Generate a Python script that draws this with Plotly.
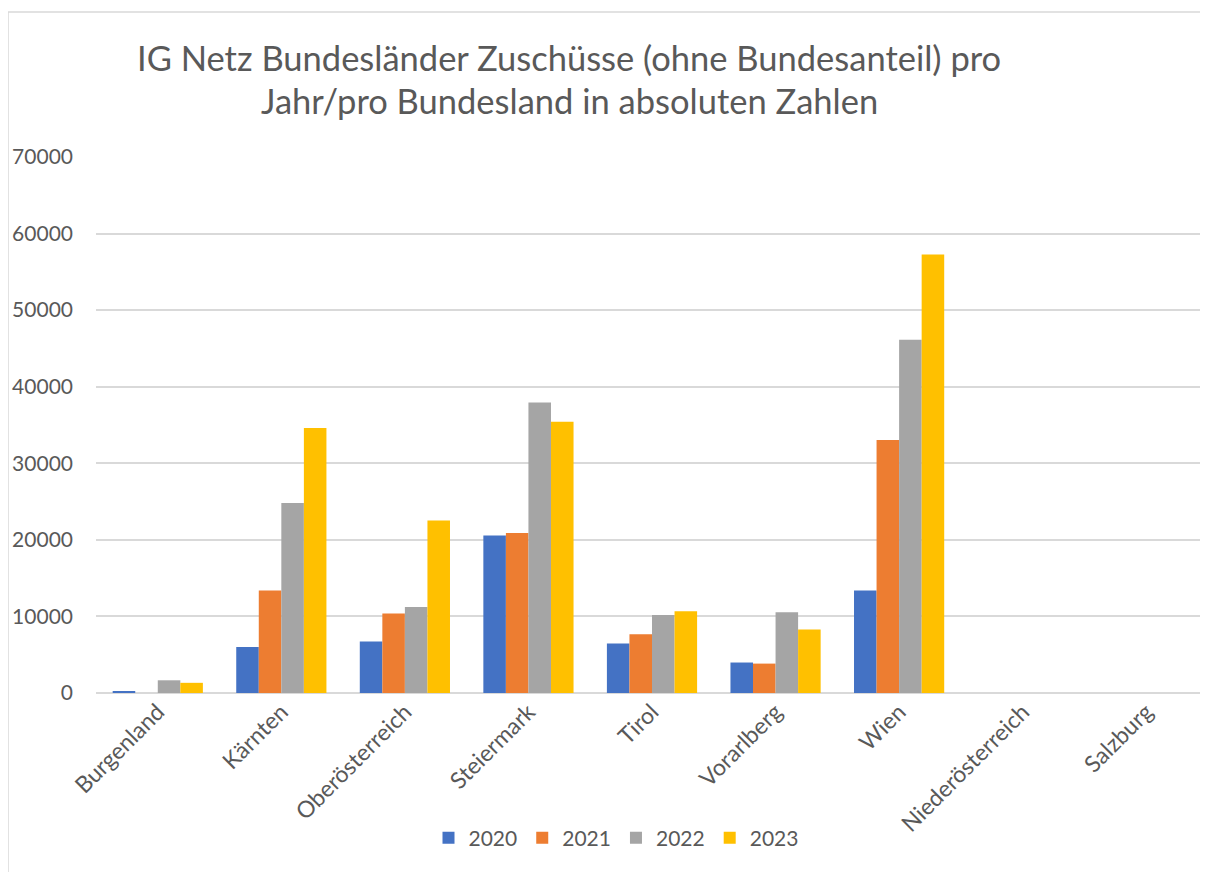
import plotly.graph_objects as go

categories = ["Burgenland", "Kärnten", "Oberösterreich", "Steiermark", "Tirol",
              "Vorarlberg", "Wien", "Niederösterreich", "Salzburg"]
years = ["2020", "2021", "2022", "2023"]
v2020 = [250, 6020, 6730, 20580, 6450, 3980, 13370, None, None]
v2021 = [None, 13370, 10380, 20910, 7680, 3840, 33050, None, None]
v2022 = [1660, 24800, 11240, 37930, 10190, 10530, 46140, None, None]
v2023 = [1330, 34610, 22520, 35420, 10670, 8300, 57280, None, None]
series = [v2020, v2021, v2022, v2023]
colors = ["#4472C4", "#ED7D31", "#A5A5A5", "#FFC000"]
y_ticks = [0, 10000, 20000, 30000, 40000, 50000, 60000, 70000]

FONT = "Lato"
TXT = "#595959"
OFF = 8  # page body margin
W, H = 1208 - OFF, 872 - OFF
PL, PT, PB = 96 - OFF, 157 - OFF, 693 - OFF  # plot left/top/bottom in figure coords
PH = PB - PT
PW = W - PL

fig = go.Figure()
for name, vals, col in zip(years, series, colors):
    fig.add_trace(go.Bar(x=categories, y=vals, name=name,
                         marker=dict(color=col, line=dict(width=0))))

fig.update_layout(
    width=W, height=H,
    margin=dict(l=PL, r=0, t=PT, b=H - PB),
    paper_bgcolor="white", plot_bgcolor="white",
    barmode="group", bargap=0.27, bargroupgap=0,
    font=dict(family=FONT, color=TXT),
    legend=dict(orientation="h", x=(616 - 96) / PW, xanchor="center",
                y=(693 - 838) / PH, yanchor="middle",
                font=dict(family=FONT, size=21, color=TXT),
                itemwidth=30, traceorder="normal"),
    showlegend=True,
)
title_lines = ["IG Netz Bundesländer Zuschüsse (ohne Bundesanteil) pro",
               "Jahr/pro Bundesland in absoluten Zahlen"]
for line, yc in zip(title_lines, [57, 101]):
    fig.add_annotation(text=line, xref="paper", yref="paper",
                       x=(569 - 96) / PW, y=(693 - yc) / PH,
                       xanchor="center", yanchor="middle", showarrow=False,
                       font=dict(family=FONT, size=34.5, color=TXT))

fig.update_yaxes(range=[0, 70000], tickvals=y_ticks, ticktext=[str(t) for t in y_ticks],
                 showgrid=True, gridcolor="#D9D9D9", gridwidth=1.5,
                 zeroline=True, zerolinecolor="#D9D9D9", zerolinewidth=2,
                 showline=False, ticks="", ticklabelstandoff=22,
                 tickfont=dict(family=FONT, size=21, color=TXT))
fig.update_xaxes(tickangle=-45, showline=False, ticks="",
                 tickfont=dict(family=FONT, size=23, color=TXT))

# chart border lines (top and left)
bx = (8 - 96) / PW
by = (693 - 12) / PH
fig.add_shape(type="line", xref="paper", yref="paper",
              x0=bx, x1=1.0, y0=by, y1=by,
              line=dict(color="#D9D9D9", width=1.5))
fig.add_shape(type="line", xref="paper", yref="paper",
              x0=bx, x1=bx, y0=by, y1=(693 - 880) / PH,
              line=dict(color="#D9D9D9", width=1.5))

fig.write_html("out.html")
